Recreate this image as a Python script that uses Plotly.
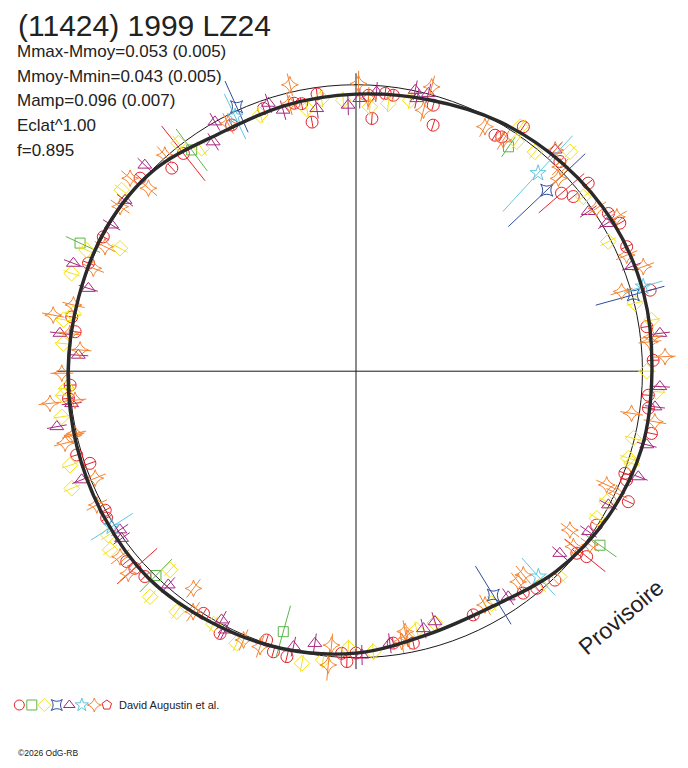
"""Polar lightcurve of (11424) 1999 LZ24: flux vs rotational phase."""
import plotly.graph_objects as go

# --- data (theta in degrees, radius = relative flux) ---

# fitted lightcurve, every 15 degrees of phase
fit_theta = [0, 15, 30, 45, 60, 75, 90, 105, 120, 135, 150, 165,
             180, 195, 210, 225, 240, 255, 270, 285, 300, 315, 330, 345]
fit_flux = [1.033, 1.040, 1.037, 1.023, 1.005, 0.981, 0.967, 0.960, 0.957, 0.995, 1.005, 1.002,
            1.005, 1.009, 1.016, 1.023, 1.012, 1.002, 0.984, 0.953, 0.949, 0.988, 1.016, 1.033]

# measurements per session: (theta, flux, error)
red_circles = [
    (103, 0.960, 0.02), (101.5, 0.953, 0.02), (100, 0.883, 0.02), (98, 0.977, 0.02),
    (87.4, 0.964, 0.02), (86.4, 0.884, 0.02), (84, 0.975, 0.02), (82.3, 0.972, 0.02),
    (72.6, 0.900, 0.02), (73.8, 0.967, 0.02), (59.5, 0.956, 0.02), (58.1, 0.963, 0.02),
    (55.6, 1.034, 0.02), (45.8, 1.021, 0.02), (40.9, 0.949, 0.105), (38.8, 0.973, 0.02),
    (39, 1.043, 0.02), (32, 1.039, 0.02), (29.3, 1.056, 0.02), (24.7, 1.040, 0.02),
    (15.4, 1.065, 0.02), (8.7, 1.027, 0.02), (2.1, 1.038, 0.02), (355.3, 1.024, 0.02),
    (352.8, 1.029, 0.02), (348.1, 1.054, 0.02), (339.2, 1.004, 0.02), (338.1, 1.018, 0.02),
    (334.4, 1.054, 0.02), (327.4, 0.997, 0.02), (321.2, 1.033, 0.098), (320.5, 0.999, 0.02),
    (313.6, 1.007, 0.02), (309.8, 0.986, 0.02), (307, 0.970, 0.02), (295.7, 0.944, 0.02),
    (281.9, 0.970, 0.02), (277.8, 0.958, 0.02), (270, 0.984, 0.02), (268.2, 1.014, 0.02),
    (267.1, 0.986, 0.02), (256.4, 1.025, 0.02), (251.6, 0.989, 0.02), (253.6, 1.021, 0.02),
    (242.6, 1.031, 0.02), (237.8, 0.999, 0.02), (224.2, 1.028, 0.02), (221.7, 1.034, 0.105),
    (219.7, 1.040, 0.02), (210.5, 1.010, 0.02), (209, 1.001, 0.02), (199.1, 0.983, 0.02),
    (196.7, 1.018, 0.02), (169.2, 1.010, 0.02), (172, 0.990, 0.02), (182.8, 0.999, 0.02),
    (185.4, 1.008, 0.02), (158, 1.007, 0.02), (152, 0.999, 0.02), (138.2, 1.011, 0.02),
    (132.2, 0.957, 0.02), (128.4, 0.970, 0.122), (116.8, 0.963, 0.02), (109.4, 0.972, 0.02),
]

green_squares = [
    (55.8, 0.947, 0.042), (324.5, 1.046, 0.073), (254.4, 0.944, 0.094),
    (225.6, 0.998, 0.080), (155.1, 1.062, 0.077), (126.6, 0.962, 0.091),
]

yellow_diamonds = [
    (100.6, 0.932, 0.03), (97.2, 0.959, 0.03), (92.7, 0.947, 0.03), (87, 0.924, 0.03),
    (83.1, 0.941, 0.03), (78.7, 0.964, 0.03), (55, 0.978, 0.03), (56.1, 1.028, 0.03),
    (50.8, 0.988, 0.03), (45.7, 1.070, 0.03), (37.5, 1.000, 0.03), (27.2, 0.990, 0.03),
    (13.7, 1.002, 0.03), (9.8, 1.047, 0.03), (0, 1.015, 0.03), (356.1, 1.052, 0.03),
    (346.4, 0.996, 0.03), (342.3, 0.998, 0.03), (341.5, 1.015, 0.03), (332.5, 0.987, 0.03),
    (328.6, 0.985, 0.03), (314.7, 1.009, 0.03), (310.7, 0.988, 0.03), (300.3, 0.939, 0.03),
    (287.4, 0.921, 0.03), (283.2, 0.928, 0.03), (273.5, 0.981, 0.03), (268.4, 0.967, 0.03),
    (263.5, 1.014, 0.03), (259.5, 1.037, 0.03), (246.3, 1.037, 0.03), (240.6, 1.013, 0.03),
    (233.3, 1.047, 0.03), (226.9, 0.950, 0.03), (227.6, 1.066, 0.03), (216, 1.061, 0.03),
    (213.5, 1.037, 0.03), (202.4, 1.073, 0.03), (198.2, 1.051, 0.03), (168.5, 1.007, 0.03),
    (170, 1.037, 0.03), (174.6, 1.026, 0.03), (183.4, 1.012, 0.03), (184.7, 1.025, 0.03),
    (188.8, 1.039, 0.03), (161, 1.050, 0.03), (155.8, 1.031, 0.03), (152.5, 0.929, 0.03),
    (142.3, 1.034, 0.03), (127.9, 1.009, 0.03), (124.7, 0.946, 0.03), (110.5, 0.955, 0.03),
]

blue_stars = [
    (43.5, 0.918, 0.185), (15.4, 1.004, 0.136), (301.5, 0.917, 0.119), (114.3, 1.013, 0.098),
]

purple_triangles = [
    (105.6, 0.946, 0.035), (98.5, 0.927, 0.035), (91.7, 0.929, 0.035), (89.2, 0.952, 0.035),
    (85.8, 0.977, 0.035), (78.1, 1.002, 0.035), (77.4, 0.975, 0.035), (75.4, 1.002, 0.035),
    (48, 1.039, 0.035), (34.5, 0.984, 0.035), (30.5, 1.016, 0.035), (20.8, 1.029, 0.035),
    (7.1, 1.069, 0.035), (357.1, 1.062, 0.035), (353.2, 1.051, 0.035), (345.8, 1.047, 0.035),
    (339.5, 1.052, 0.035), (332.1, 0.997, 0.035), (325.4, 0.986, 0.035), (318.2, 0.954, 0.035),
    (304, 0.950, 0.035), (287.5, 0.917, 0.035), (284.7, 0.929, 0.035), (277.1, 0.957, 0.035),
    (271.2, 0.991, 0.035), (261.4, 0.961, 0.035), (257.2, 0.986, 0.035), (243.2, 1.012, 0.035),
    (241.6, 0.987, 0.035), (228.7, 0.993, 0.035), (215.5, 1.005, 0.035), (213.9, 0.993, 0.035),
    (201.6, 1.030, 0.035), (172.7, 1.042, 0.035), (176.7, 0.971, 0.035), (186.5, 0.999, 0.035),
    (190.5, 1.062, 0.035), (162.8, 0.978, 0.035), (159.1, 1.056, 0.035), (149.1, 0.994, 0.035),
    (143.5, 1.003, 0.035), (135.7, 1.030, 0.035), (121.9, 0.943, 0.035), (119.5, 1.000, 0.035),
    (108.1, 0.984, 0.035),
]

cyan_stars = [
    (47.4, 0.939, 0.182), (16.4, 1.045, 0.070), (311.6, 0.959, 0.087),
    (212.5, 1.011, 0.087), (115.4, 0.984, 0.087),
]

orange_stars = [
    (103, 1.026, 0.04), (104, 0.962, 0.04), (89.5, 1.004, 0.045), (87.4, 0.953, 0.04),
    (75.1, 1.027, 0.04), (75.5, 0.941, 0.04), (62.2, 0.965, 0.04), (57.5, 0.957, 0.04),
    (48, 1.039, 0.04), (43.6, 0.976, 0.04), (45, 1.008, 0.04), (34.1, 1.014, 0.04),
    (30.6, 1.058, 0.04), (23.2, 1.028, 0.04), (20, 1.067, 0.04), (16.7, 0.968, 0.04),
    (6.6, 1.039, 0.04), (5.7, 1.031, 0.04), (2.7, 1.080, 0.04), (351.3, 0.973, 0.04),
    (350.4, 1.058, 0.04), (335.6, 0.961, 0.04), (334.9, 1.005, 0.04), (323.4, 0.930, 0.04),
    (323.4, 1.017, 0.04), (321.1, 0.975, 0.04), (307.6, 0.928, 0.04), (309.4, 0.920, 0.04),
    (298.9, 0.932, 0.04), (280.7, 0.925, 0.04), (281, 0.950, 0.04), (279.6, 0.957, 0.04),
    (264.9, 0.960, 0.04), (264.6, 1.030, 0.055), (250.8, 1.018, 0.04), (247.3, 1.017, 0.04),
    (235.9, 1.014, 0.04), (233.2, 0.947, 0.04), (221.6, 1.063, 0.04), (218.2, 1.048, 0.04),
    (207.3, 1.018, 0.04), (202.3, 0.984, 0.04), (193.9, 1.046, 0.04), (192.5, 1.005, 0.04),
    (166.8, 1.013, 0.04), (169.5, 1.075, 0.04), (172.5, 1.007, 0.04), (175.6, 0.966, 0.04),
    (180.4, 1.027, 0.04), (186, 1.074, 0.04), (185.9, 0.986, 0.04), (192.8, 1.012, 0.04),
    (158.6, 0.985, 0.04), (153.6, 0.978, 0.04), (145.1, 1.004, 0.04), (139.5, 1.037, 0.04),
    (138.6, 0.966, 0.04), (131.5, 1.007, 0.04), (117.3, 0.973, 0.04),
]

red_pentagons = []

# session styling: (points, symbol, colour, marker size)
sessions = [
    (red_circles, "circle-open", "#e5222b", 12),
    (green_squares, "square-open", "#5cb54a", 10),
    (yellow_diamonds, "diamond-open", "#f3e21a", 12),
    (blue_stars, "star-square-open", "#2f4d9c", 11),
    (purple_triangles, "triangle-up-open", "#a5287f", 12),
    (cyan_stars, "star-open", "#62c6df", 12),
    (orange_stars, "star-diamond-open", "#f5822f", 12),
    (red_pentagons, "pentagon-open", "#e5222b", 11),
]

stats_lines = [
    "Mmax-Mmoy=0.053 (0.005)",
    "Mmoy-Mmin=0.043 (0.005)",
    "Mamp=0.096 (0.007)",
    "Eclat^1.00",
    "f=0.895",
]

# crosshair arm lengths (theta, flux)
axis_arms = [(0, 1.0), (90, 1.04), (180, 1.045), (270, 1.04)]

# the page puts the figure 8px in from the top-left corner
W, H = 672, 752
CX, CY = 348, 363.2      # pixel centre of the polar plot
R_PX = 320               # pixel radius of the polar domain
R_MAX = 1.117            # flux at that radius

fig = go.Figure()

# crosshair
arm_t, arm_r = [], []
for t, length in axis_arms:
    arm_t += [t, t, None]
    arm_r += [0, length, None]
fig.add_trace(go.Scatterpolar(theta=arm_t, r=arm_r, mode="lines",
                              line=dict(color="#1a1a1a", width=1), hoverinfo="skip"))

# error bars and points
for pts, symbol, color, size in sessions:
    if not pts:
        continue
    et, er = [], []
    for t, f, e in pts:
        et += [t, t, None]
        er += [f - e, f + e, None]
    fig.add_trace(go.Scatterpolar(theta=et, r=er, mode="lines",
                                  line=dict(color=color, width=1), hoverinfo="skip"))
    fig.add_trace(go.Scatterpolar(
        theta=[p[0] for p in pts], r=[p[1] for p in pts], mode="markers",
        marker=dict(symbol=symbol, size=size, color=color, line=dict(color=color, width=1)),
    ))

# fitted curve on top
fig.add_trace(go.Scatterpolar(
    theta=fit_theta + fit_theta[:1], r=fit_flux + fit_flux[:1], mode="lines",
    line=dict(color="#2a2a2a", width=3.4, shape="spline"), hoverinfo="skip",
))

# legend row of symbols (paper-pixel overlay axes)
fig.add_trace(go.Scatter(
    x=[11.3 + 12.5 * i for i in range(len(sessions))],
    y=[697] * len(sessions),
    mode="markers",
    marker=dict(symbol=[s[1] for s in sessions], size=10,
                color=[s[2] for s in sessions],
                line=dict(color=[s[2] for s in sessions], width=1)),
    hoverinfo="skip",
))

font = "Liberation Sans, Arial, sans-serif"
annotations = [
    dict(text="(11424) 1999 LZ24", x=8 / W, y=1 - 18 / H, font=dict(size=30, color="#222")),
    dict(text="David Augustin et al.", x=109 / W, y=1 - 697 / H, font=dict(size=11, color="#222")),
    dict(text="©2026 OdG-RB", x=8 / W, y=1 - 745 / H, font=dict(size=8.5, color="#222")),
]
for i, line in enumerate(stats_lines):
    annotations.append(dict(text=line, x=7 / W, y=1 - (43.5 + 24.7 * i) / H,
                            font=dict(size=17, color="#222")))
for a in annotations:
    a.update(xref="paper", yref="paper", xanchor="left", yanchor="middle", showarrow=False)
    a["font"]["family"] = font
annotations.append(dict(text="Provisoire", x=613 / W, y=1 - 609 / H, xref="paper", yref="paper",
                        xanchor="center", yanchor="middle", showarrow=False, textangle=-40,
                        font=dict(size=23, color="#222", family=font)))

fig.update_layout(
    width=W, height=H,
    margin=dict(l=0, r=0, t=0, b=0),
    paper_bgcolor="white",
    plot_bgcolor="rgba(0,0,0,0)",
    showlegend=False,
    annotations=annotations,
    polar=dict(
        domain=dict(x=[(CX - R_PX) / W, (CX + R_PX) / W],
                    y=[(H - CY - R_PX) / H, (H - CY + R_PX) / H]),
        bgcolor="rgba(0,0,0,0)",
        radialaxis=dict(range=[0, R_MAX], tickvals=[1.0], showticklabels=False, ticks="",
                        showline=False, showgrid=True, gridcolor="#1a1a1a", gridwidth=1),
        angularaxis=dict(visible=False, rotation=0, direction="counterclockwise"),
    ),
    xaxis=dict(range=[0, W], visible=False, domain=[0, 1]),
    yaxis=dict(range=[H, 0], visible=False, domain=[0, 1]),
)

fig.write_html("out.html")
